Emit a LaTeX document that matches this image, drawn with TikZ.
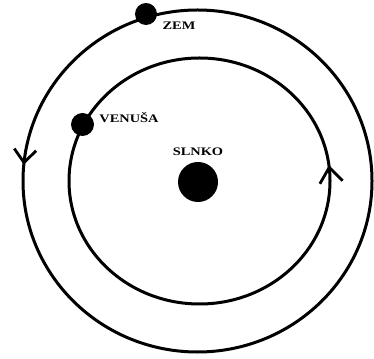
\documentclass[tikz,border=0pt]{standalone}
\usepackage{fontspec}
\setmainfont{Liberation Serif}
\usetikzlibrary{arrows.meta,decorations.markings,shapes.geometric}
\begin{document}
\begin{tikzpicture}[x=1pt,y=1pt,
  orbit/.style={line width=3pt, black},
  body/.style={circle, fill=black, inner sep=0pt},
  lbl/.style={font=\bfseries\fontsize{11.5}{12}\selectfont, inner sep=0pt}
]
\useasboundingbox (0,0) rectangle (374,358);
% outer orbit (counterclockwise)
\draw[orbit, postaction={decorate},
  decoration={markings, mark=at position 0.485 with {\arrow[line width=2.8pt]{Straight Barb[length=13pt,width=22pt]}}}]
  (197.5,177) ellipse [x radius=174.5, y radius=171];
% inner orbit
\draw[orbit, postaction={decorate},
  decoration={markings, mark=at position 0.02 with {\arrow[line width=2.8pt]{Straight Barb[length=15pt,width=23pt]}}}]
  (199.5,177) ellipse [x radius=130.5, y radius=123];
% bodies
\node[body, minimum size=22pt] (zem) at (146,344) {};
\node[body, minimum size=23pt] (venusa) at (82.5,233.5) {};
\node[body, minimum size=40pt] (slnko) at (198,176) {};
% labels
\node[lbl] (zeml) at (179,332.5) {\scalebox{1.25}[1]{ZEM}};
\node[lbl] (venl) at (129,240) {\scalebox{1.25}[1]{VENUŠA}};
\node[lbl] (slnl) at (198,206) {\scalebox{1.25}[1]{SLNKO}};
\end{tikzpicture}
\end{document}
